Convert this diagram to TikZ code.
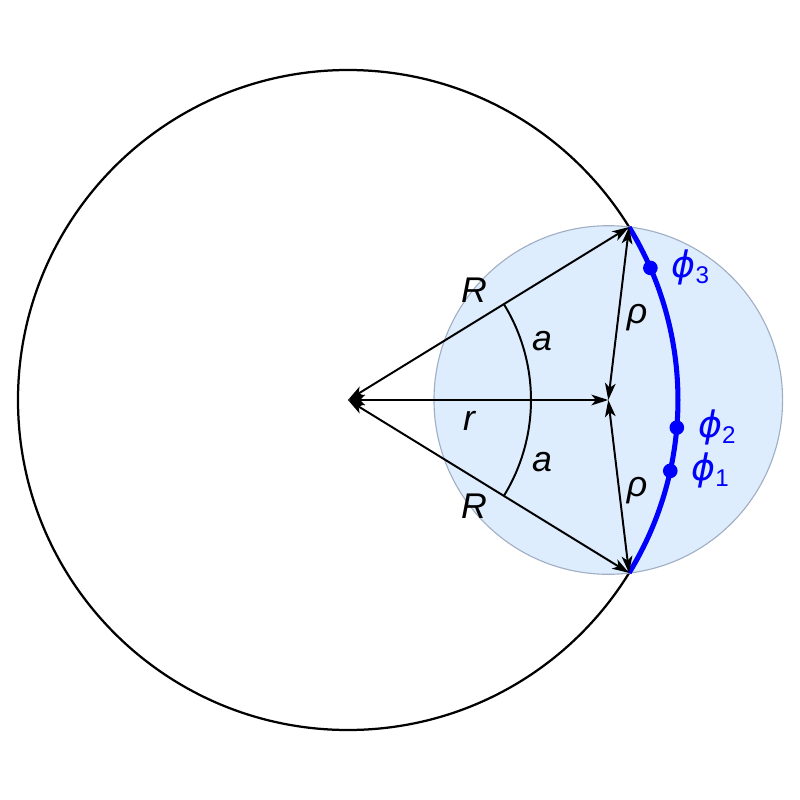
\documentclass[tikz,border=0pt]{standalone}
\usepackage{fontspec}
\setmainfont{Liberation Sans}
\newfontfamily\gregofont[Scale=1.02]{DejaVu Sans}
\usepackage{tikz}
\usetikzlibrary{arrows.meta}
\definecolor{azulclaro}{RGB}{222,237,253}
\definecolor{bordaazul}{RGB}{160,175,195}
\tikzstyle{ponto}=[circle, fill=blue, inner sep=0pt, minimum size=5.2pt]
\providecommand{\ponto}{\node[ponto]}
\tikzstyle{rotulo}=[font=\fontsize{12.7}{15}\selectfont\itshape, inner sep=0pt]
\tikzstyle{rotuloazul}=[font=\fontsize{12.7}{15}\selectfont\itshape, text=blue, label distance=1.2pt]
\providecommand{\phisub}[1]{{\gregofont\itshape ϕ}\raisebox{-2pt}{\upshape\fontsize{8.6}{9}\selectfont #1}}

\begin{document}
\begin{tikzpicture}[x=0.0125cm, y=0.0125cm,
    every edge/.style={
        draw, line width=0.7pt,
        {Stealth[length=6pt, width=3.8pt, inset=1.6pt]}-{Stealth[length=6pt, width=3.8pt, inset=1.6pt]}
        }
]
\useasboundingbox (-348,-400) rectangle (452,400);
\coordinate (centro) at (0,0);
\coordinate (cpeq) at (260.3,0);
\coordinate (A) at (31.6:330);
\coordinate (B) at (-31.6:330);
\draw[line width=0.8pt] (centro) circle[radius=330];
\draw[fill=azulclaro, draw=bordaazul, line width=0.4pt] (cpeq) circle[radius=174.3];
\draw[blue, line width=1.8pt] (B) arc[start angle=-31.6, end angle=31.6, radius=330];
\draw[line width=0.7pt] (centro) ++(-31.6:183) arc[start angle=-31.6, end angle=31.6, radius=183];
\path
(centro) edge (A)
(centro) edge (B)
(centro) edge (cpeq)
(cpeq) edge (A)
(cpeq) edge (B)
;
\node[rotulo] (R1) at (126,110) {R};
\node[rotulo] (R2) at (126,-106) {R};
\node[rotulo] (a1) at (194,59) {a};
\node[rotulo] (a2) at (194,-62) {a};
\node[rotulo] (r) at (121,-21) {r};
\node[rotulo] (rho1) at (289,82) {ρ};
\node[rotulo] (rho2) at (289,-91) {ρ};
\ponto (f3) at (23.6:330) [label={[rotuloazul]right:\phisub{3}}] {};
\ponto (f2) at (-4.8:330) [label={[rotuloazul]right:\phisub{2}}] {};
\ponto (f1) at (-12.4:330) [label={[rotuloazul]right:\phisub{1}}] {};
\end{tikzpicture}
\end{document}
